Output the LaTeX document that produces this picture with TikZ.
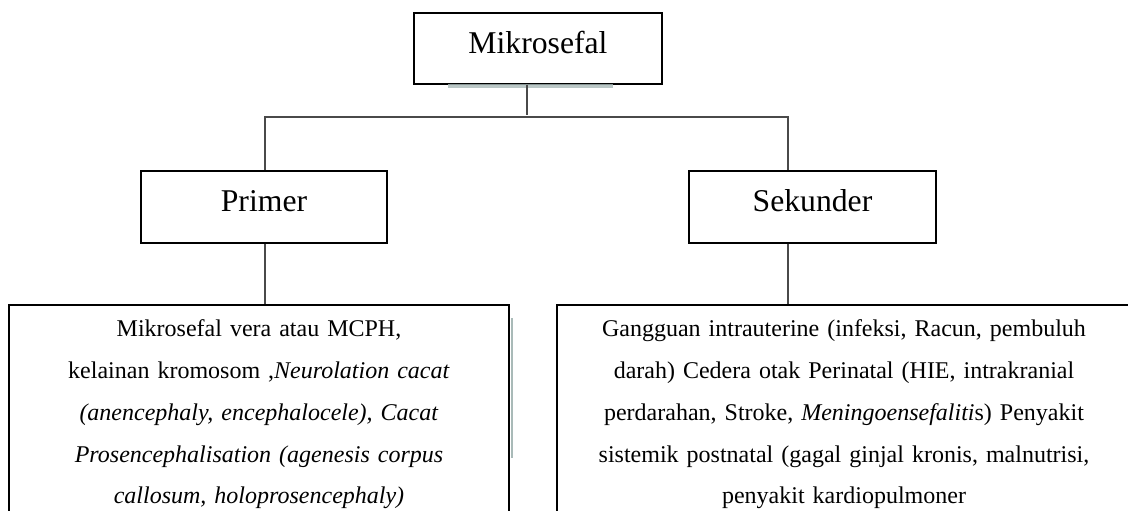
\documentclass[tikz,border=0pt]{standalone}
\usepackage{fontspec}
\setmainfont{Liberation Serif}
\usetikzlibrary{positioning}
\definecolor{linegray}{HTML}{4A4A4A}
\definecolor{shadowgray}{HTML}{A9BAB8}
\begin{document}
\begin{tikzpicture}[x=1pt, y=-1pt,
    box/.style={rectangle, draw=black, line width=1.6pt, inner sep=0pt, align=center},
    headbox/.style={box, font=\fontsize{31.7pt}{36pt}\selectfont, text height=41pt, text depth=30pt},
    detailbox/.style={box, font=\fontsize{24pt}{41.75pt}\selectfont, text height=32pt, text depth=240pt},
    link/.style={draw=linegray, line width=1.4pt}]
    \path[use as bounding box, fill=white] (0,0) rectangle (1128,511);
    \clip (0,0) rectangle (1128,511);

    \node (mikro) [headbox, minimum width=248pt, anchor=north] at (538,12) {Mikrosefal};
    \node (primer) [headbox, minimum width=246pt, anchor=north, text depth=31pt] at (264,170) {Primer};
    \node (sekunder) [headbox, minimum width=247pt, anchor=north, text depth=31pt] at (812.5,170) {Sekunder};

    \node (primdet) [detailbox, text width=500pt, anchor=north] at (259,304)
        {Mikrosefal vera atau MCPH,\\
         kelainan kromosom ,\textit{Neurolation cacat}\\
         \textit{(anencephaly, encephalocele), Cacat}\\
         \textit{Prosencephalisation (agenesis corpus}\\
         \textit{callosum, holoprosencephaly)}};
    \node (sekdet) [detailbox, text width=574pt, anchor=north] at (844,304)
        {Gangguan intrauterine (infeksi, Racun, pembuluh\\
         darah) Cedera otak Perinatal (HIE, intrakranial\\
         perdarahan, Stroke, \textit{Meningoensefaliti}s) Penyakit\\
         sistemik postnatal (gagal ginjal kronis, malnutrisi,\\
         penyakit kardiopulmoner};

    % faint shadows
    \fill[shadowgray, opacity=0.8] (448,84) rectangle (613,88);
    \fill[shadowgray] (510.5,318) rectangle (513,458);

    % Links
    \coordinate (hub) at (527,117);
    \coordinate (lbend) at (265,117);
    \coordinate (rbend) at (788,117);
    \draw [link] (mikro.south -| hub) -- ([yshift=2pt]hub);
    \draw [link] (primer.north -| lbend) -- (lbend) -- (rbend) -- (sekunder.north -| rbend);
    \draw [link] (primer.south -| lbend) -- (primdet.north -| lbend);
    \draw [link] (sekunder.south -| rbend) -- (sekdet.north -| rbend);
\end{tikzpicture}
\end{document}
